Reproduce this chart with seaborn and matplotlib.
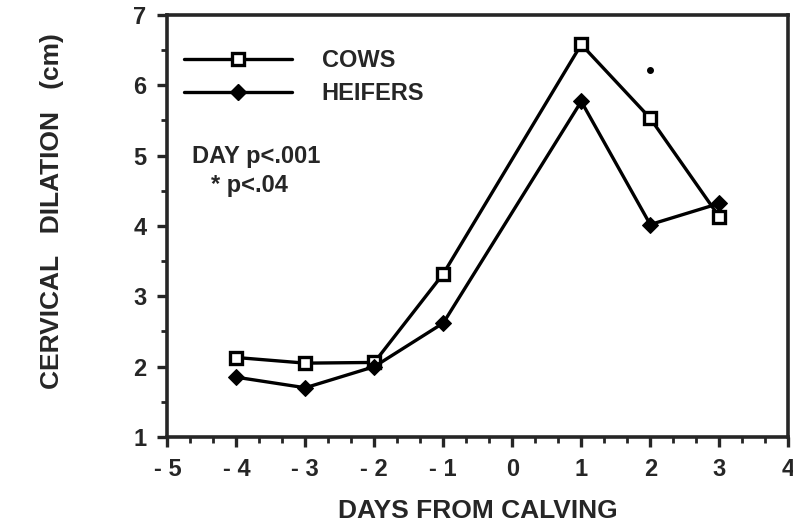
import matplotlib
matplotlib.use("Agg")
import matplotlib.pyplot as plt
from matplotlib.ticker import MultipleLocator
from matplotlib.lines import Line2D
import seaborn as sns
import pandas as pd

days = [-4, -3, -2, -1, 1, 2, 3]
cows = [2.13, 2.05, 2.06, 3.32, 6.58, 5.53, 4.13]
heifers = [1.85, 1.70, 2.00, 2.62, 5.77, 4.02, 4.32]
x_ticks = [-5, -4, -3, -2, -1, 0, 1, 2, 3, 4]
x_labels = ["- 5", "- 4", "- 3", "- 2", "- 1", "0", "1", "2", "3", "4"]
y_ticks = [1, 2, 3, 4, 5, 6, 7]

sns.set_style("ticks")
plt.rcParams["font.family"] = ["Liberation Sans", "DejaVu Sans"]
plt.rcParams["font.weight"] = "bold"

fig = plt.figure(figsize=(7.93, 5.31), dpi=100)
ax = fig.add_axes([0.211, 0.177, 0.783, 0.795])

df_c = pd.DataFrame({"day": days, "val": cows})
df_h = pd.DataFrame({"day": days, "val": heifers})

sns.lineplot(data=df_c, x="day", y="val", ax=ax, color="black", lw=2.4,
             marker="s", markersize=8, markerfacecolor="white",
             markeredgecolor="black", markeredgewidth=2.4, zorder=3)
sns.lineplot(data=df_h, x="day", y="val", ax=ax, color="black", lw=2.4,
             marker="D", markersize=8, markerfacecolor="black",
             markeredgecolor="black", zorder=3)

# significance asterisk at day 2
ax.plot([2], [6.22], marker="o", color="black", markersize=4)

ax.set_xlim(-5, 4)
ax.set_ylim(1, 7)
ax.set_xticks(x_ticks)
ax.set_xticklabels(x_labels)
ax.set_yticks(y_ticks)
ax.xaxis.set_minor_locator(MultipleLocator(1 / 3))
ax.yaxis.set_minor_locator(MultipleLocator(0.5))
ax.tick_params(axis="both", which="major", direction="out", length=7, width=2.4,
               labelsize=17, pad=8)
ax.tick_params(axis="both", which="minor", direction="out", length=4, width=2)
for lab in ax.get_xticklabels() + ax.get_yticklabels():
    lab.set_fontweight("bold")
for s in ax.spines.values():
    s.set_linewidth(2.6)
    s.set_visible(True)

ax.set_xlabel("DAYS FROM CALVING", fontsize=19, fontweight="bold", labelpad=13)
ax.set_ylabel("CERVICAL   DILATION   (cm)", fontsize=19, fontweight="bold")
ax.yaxis.set_label_coords(-0.166, 0.535)

handles = [
    Line2D([], [], color="black", lw=2.4, marker="s", markersize=8,
           markerfacecolor="white", markeredgecolor="black", markeredgewidth=2.4),
    Line2D([], [], color="black", lw=2.4, marker="D", markersize=8,
           markerfacecolor="black"),
]
leg = ax.legend(handles, ["COWS", "HEIFERS"], loc="upper left",
                bbox_to_anchor=(-0.008, 0.97), frameon=False, handlelength=4.6,
                handletextpad=1.25, labelspacing=0.45, prop={"size": 17, "weight": "bold"})

ax.text(0.04, 0.665, "DAY p<.001", transform=ax.transAxes, fontsize=17,
        fontweight="bold", va="center")
ax.text(0.07, 0.595, "* p<.04", transform=ax.transAxes, fontsize=17,
        fontweight="bold", va="center")

fig.savefig("out.png", dpi=100)
plt.close(fig)
